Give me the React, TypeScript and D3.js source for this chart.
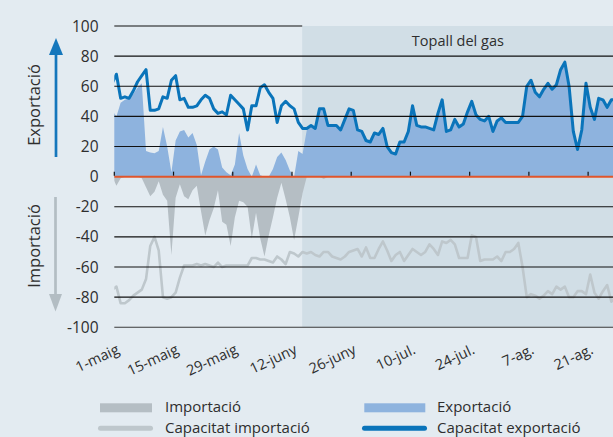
import React, { useEffect, useRef } from "react";
import * as d3 from "d3";

var width = 613;
var height = 437;
var plotLeft = 114.3;
var plotRight = 613.5;
var plotTop = 26;
var plotBottom = 327.3;

var font = "'Open Sans', 'DejaVu Sans', sans-serif";
var textColor = "#2e2e2e";
var bgColor = "#e3ebf1";
var shadeColor = "#d1dee6";
var exportFill = "#8eb3de";
var exportLine = "#0a74ba";
var importFill = "#b5bec4";
var importLine = "#bec7cc";
var zeroColor = "#e0552b";

// daily values, first entry is 30 April
var firstDay = new Date(2022, 3, 30);
var axisStart = new Date(2022, 4, 1);
var axisEnd = new Date(2022, 7, 27);
var topallStart = new Date(2022, 5, 14, 10);

var tickLabels = ["1-maig", "15-maig", "29-maig", "12-juny", "26-juny", "10-jul.", "24-jul.", "7-ag.", "21-ag."];
var yTicks = [100, 80, 60, 40, 20, 0, -20, -40, -60, -80, -100];

var exportCapacity = [
  62,
  68, 52, 53, 52, 57, 63, 67, 71, 44, 44,
  45, 53, 52, 64, 67, 51, 52, 46, 46, 47,
  51, 54, 52, 45, 42, 43, 41, 54, 51, 48,
  45, 31, 47, 47, 59, 61, 56, 52, 36, 47,
  50, 47, 45, 36, 32, 32, 34, 32, 45, 45,
  34, 34, 34, 31, 38, 45, 44, 31, 30, 24,
  23, 29, 28, 32, 20, 16, 15, 23, 23, 30,
  47, 34, 33, 33, 32, 31, 42, 51, 30, 31,
  38, 33, 35, 43, 50, 41, 38, 37, 40, 30,
  37, 39, 36, 36, 36, 36, 40, 60, 64, 56,
  53, 58, 62, 58, 61, 71, 76, 60, 30, 18,
  31, 62, 46, 38, 52, 51, 46, 51, 51
];

var exportFlow = [
  44,
  40, 49, 51, 52, 55, 59, 62, 17, 16, 15.6,
  17, 33, 20, 3, 24, 30, 31, 26, 29, 21,
  1, 10, 18, 20, 18, 6, 3, 1, 8, 29,
  14, 5, 0, 8, 1, 0, 0, 5, 13, 16,
  11, 4, 0, 17, 15, 31, 34, 32, 45, 45,
  34, 34, 34, 31, 38, 45, 44, 31, 30, 24,
  23, 29, 28, 32, 20, 16, 15, 23, 23, 30,
  47, 34, 33, 33, 32, 31, 42, 51, 30, 31,
  38, 33, 35, 43, 50, 41, 38, 37, 40, 30,
  37, 39, 36, 36, 36, 36, 40, 60, 64, 56,
  53, 58, 62, 58, 61, 71, 76, 60, 30, 18,
  31, 62, 46, 38, 52, 51, 46, 51, 51
];

var importFlow = [
  0,
  -6, -1, 0, 0, 0, 0, -1, -7, -13, -10,
  -3, -12, -16, -52, -14, -5, -13, -15, -9, -6,
  -23, -39, -29, -21, -9, -30, -32, -46, -27, -16,
  -17, -20, -41, -24, -41, -53, -39, -27, -14, -4,
  -15, -27, -42, -27, -11, 0, 0, 0, 0, -1.5,
  0, 0, 0, 0, 0, 0, 0, 0, 0, 0,
  0, 0, 0, 0, 0, 0, 0, 0, 0, 0,
  0, 0, 0, 0, 0, 0, 0, 0, 0, 0,
  0, 0, 0, 0, 0, 0, 0, 0, 0, 0,
  0, 0, 0, 0, 0, 0, 0, 0, 0, 0,
  0, 0, 0, 0, 0, 0, 0, 0, 0, 0,
  0, 0, 0, 0, 0, 0, 0, 0, 0
];

var importCapacity = [
  -75,
  -73, -84, -84, -82, -79, -77, -75, -68, -46, -40,
  -49, -80, -81, -80, -77, -67, -59, -59, -59, -58,
  -59, -58, -59, -60, -57, -60, -59, -59, -59, -59,
  -59, -59, -54, -54, -55, -55, -56, -57, -53, -55,
  -58, -50, -51, -53, -50, -51, -50, -52, -53, -50,
  -50, -53, -54, -55, -53, -50, -49, -48, -53, -47,
  -54, -54, -48, -43, -49, -56, -52, -50, -56, -52,
  -48, -50, -52, -50, -45, -48, -52, -43, -44, -42,
  -45, -54, -54, -54, -39, -40, -56, -55, -55, -55,
  -53, -56, -50, -50, -48, -44, -60, -80, -78, -79,
  -81, -79, -76, -78, -73, -75, -73, -80, -80, -76,
  -76, -78, -65, -77, -81, -76, -72, -83, -80
];

function drawChart(node) {
  var svg = d3.select(node);
  svg.selectAll("*").remove();

  var x = d3.scaleTime().domain([axisStart, axisEnd]).range([plotLeft, plotRight]);
  var y = d3.scaleLinear().domain([-100, 100]).range([plotBottom, plotTop]);

  // category centre = noon of each day
  var px = (i) => x(d3.timeHour.offset(d3.timeDay.offset(firstDay, i), 12));

  svg.append("rect").attr("width", width).attr("height", height).attr("fill", bgColor);

  var shadeX = x(topallStart);
  svg.append("rect")
    .attr("x", shadeX).attr("y", y(100))
    .attr("width", plotRight - shadeX).attr("height", y(-100) - y(100))
    .attr("fill", shadeColor);

  svg.append("defs").append("clipPath").attr("id", "plotclip")
    .append("rect").attr("x", plotLeft).attr("y", 0)
    .attr("width", plotRight - plotLeft).attr("height", height);

  var plot = svg.append("g").attr("clip-path", "url(#plotclip)");

  var area = d3.area()
    .x((d, i) => px(i))
    .y0(y(0))
    .y1(d => y(d));

  plot.append("path").attr("d", area(exportFlow)).attr("fill", exportFill);
  plot.append("path").attr("d", area(importFlow)).attr("fill", importFill);

  // grid
  var grid = svg.append("g");
  yTicks.filter(t => t !== 0).forEach(t => {
    grid.append("line")
      .attr("x1", plotLeft)
      .attr("x2", t === 100 ? shadeX : plotRight)
      .attr("y1", y(t)).attr("y2", y(t))
      .attr("stroke", t === -100 ? "#3a3a3a" : "#111")
      .attr("stroke-width", 1.1);
  });

  svg.append("line")
    .attr("x1", plotLeft).attr("x2", plotRight)
    .attr("y1", y(0)).attr("y2", y(0))
    .attr("stroke", zeroColor).attr("stroke-width", 2);

  tickLabels.forEach((lab, i) => {
    var tx = x(d3.timeDay.offset(axisStart, i * 14));
    svg.append("line")
      .attr("x1", tx).attr("x2", tx)
      .attr("y1", y(0) - 5).attr("y2", y(0) - 1)
      .attr("stroke", "#111").attr("stroke-width", 1.2);
    svg.append("text")
      .attr("transform", `translate(${tx + 6}, 353) rotate(-25)`)
      .attr("text-anchor", "end")
      .attr("font-family", font).attr("font-size", 14.5)
      .attr("fill", textColor)
      .text(lab);
  });

  var line = d3.line()
    .x((d, i) => px(i))
    .y(d => y(d));

  plot.append("path").attr("d", line(importCapacity))
    .attr("fill", "none").attr("stroke", importLine)
    .attr("stroke-width", 2.6).attr("stroke-linejoin", "round");
  plot.append("path").attr("d", line(exportCapacity))
    .attr("fill", "none").attr("stroke", exportLine)
    .attr("stroke-width", 3).attr("stroke-linejoin", "round");

  // y labels
  yTicks.forEach(t => {
    svg.append("text")
      .attr("x", 98.5).attr("y", y(t)).attr("dy", "0.36em")
      .attr("text-anchor", "end")
      .attr("font-family", font).attr("font-size", 15.5)
      .attr("fill", textColor)
      .text(String(t));
  });

  svg.append("text")
    .attr("x", (shadeX + plotRight) / 2).attr("y", 46)
    .attr("text-anchor", "middle")
    .attr("font-family", font).attr("font-size", 14.5)
    .attr("fill", textColor)
    .text("Topall del gas");

  // axis titles + arrows
  svg.append("text")
    .attr("transform", "translate(39.5, 105) rotate(-90)")
    .attr("text-anchor", "middle")
    .attr("font-family", font).attr("font-size", 16.5)
    .attr("fill", textColor)
    .text("Exportació");
  svg.append("text")
    .attr("transform", "translate(39.5, 246) rotate(-90)")
    .attr("text-anchor", "middle")
    .attr("font-family", font).attr("font-size", 16.5)
    .attr("fill", textColor)
    .text("Importació");

  svg.append("line")
    .attr("x1", 56).attr("x2", 56).attr("y1", 157).attr("y2", 52)
    .attr("stroke", "#1577bc").attr("stroke-width", 2.7);
  svg.append("path").attr("d", "M56,38 L49,55 L63,55 Z").attr("fill", "#1577bc");

  svg.append("line")
    .attr("x1", 55.5).attr("x2", 55.5).attr("y1", 197).attr("y2", 296)
    .attr("stroke", "#b3bdc3").attr("stroke-width", 2.7);
  svg.append("path").attr("d", "M55.5,311.5 L49,294 L62,294 Z").attr("fill", "#b3bdc3");

  // legend
  var legend = svg.append("g").attr("font-family", font).attr("font-size", 15).attr("fill", textColor);
  legend.append("rect").attr("x", 100).attr("y", 403.3).attr("width", 52).attr("height", 9).attr("fill", importFill);
  legend.append("text").attr("x", 165).attr("y", 412.3).text("Importació");
  legend.append("line").attr("x1", 100.5).attr("x2", 150.5).attr("y1", 428.3).attr("y2", 428.3)
    .attr("stroke", importLine).attr("stroke-width", 5).attr("stroke-linecap", "round");
  legend.append("text").attr("x", 165).attr("y", 433).text("Capacitat importació");

  legend.append("rect").attr("x", 364.3).attr("y", 403.3).attr("width", 61).attr("height", 9).attr("fill", exportFill);
  legend.append("text").attr("x", 437).attr("y", 412.3).text("Exportació");
  legend.append("line").attr("x1", 364.5).attr("x2", 424.5).attr("y1", 428.3).attr("y2", 428.3)
    .attr("stroke", exportLine).attr("stroke-width", 5).attr("stroke-linecap", "round");
  legend.append("text").attr("x", 437).attr("y", 433).text("Capacitat exportació");
}

export default function App() {
  var ref = useRef(null);

  useEffect(() => {
    drawChart(ref.current);
  }, []);

  return (
    <svg
      ref={ref}
      width={width}
      height={height}
      style={{ position: "absolute", left: 0, top: 0, display: "block" }}
    />
  );
}
